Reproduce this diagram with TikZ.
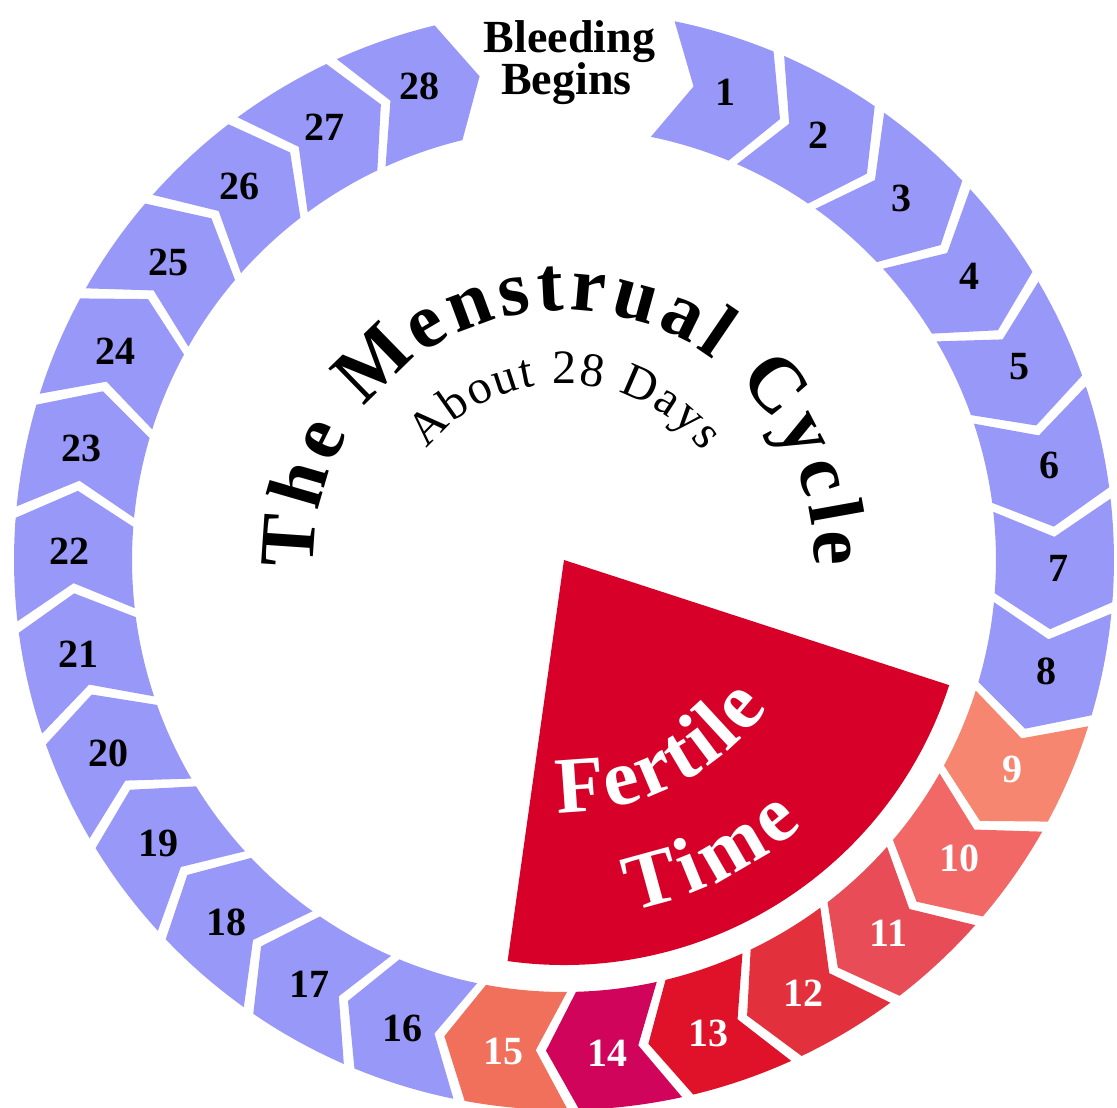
\documentclass[tikz,border=0pt]{standalone}
\usepackage{fontspec}
\setmainfont{Liberation Serif}
\usetikzlibrary{decorations.text}
\definecolor{ringblue}{RGB}{152,152,248}
\definecolor{fertilered}{RGB}{214,0,40}
\definecolor{dayix}{RGB}{246,134,112}
\definecolor{dayx}{RGB}{242,104,102}
\definecolor{dayxi}{RGB}{232,76,86}
\definecolor{dayxii}{RGB}{226,48,60}
\definecolor{dayxiii}{RGB}{224,18,42}
\definecolor{dayxiv}{RGB}{208,4,90}
\definecolor{dayxv}{RGB}{240,112,92}
\newcommand{\numfont}{\bfseries\fontsize{40}{40}\selectfont}
\newcommand{\titlefont}{\bfseries\fontsize{78}{90}\selectfont}
\newcommand{\subfont}{\fontsize{48}{50}\selectfont}
\newcommand{\fertfont}{\bfseries\fontsize{80}{90}\selectfont\color{white}}
% one chevron of the ring, #1 = centre angle, #2 = colour
\newcommand{\daysegment}[2]{%
    \fill[#2] ({#1+5.4}:550pt) arc[start angle={#1+5.4}, end angle={#1-5.4}, radius=550pt]
        -- ({#1-9.1}:491pt) -- ({#1-5.4}:432pt)
        arc[start angle={#1-5.4}, end angle={#1+5.4}, radius=432pt]
        -- ({#1+1.7}:491pt) -- cycle;}

\begin{document}
\begin{tikzpicture}[x=1pt,y=1pt]
    \useasboundingbox (-564,-548) rectangle (553,560);

    % days of the ring
    \foreach \k in {1,...,8,16,17,...,28} {
        \pgfmathsetmacro{\ang}{73-12*(\k-1)}
        \daysegment{\ang}{ringblue}
        \node[font=\numfont] (d\k) at ({\ang-2}:495pt) {\k};
    }
    \foreach \k/\col in {9/dayix, 10/dayx, 11/dayxi, 12/dayxii, 13/dayxiii, 14/dayxiv, 15/dayxv} {
        \pgfmathsetmacro{\ang}{73-12*(\k-1)}
        \daysegment{\ang}{\col}
        \node[font=\numfont, text=white] (d\k) at ({\ang-2}:495pt) {\k};
    }

    \node[font=\bfseries\fontsize{46}{46}\selectfont, anchor=base] (bleed) at (5.5, 507) {Bleeding};
    \node[font=\bfseries\fontsize{46}{46}\selectfont, anchor=base] (begins) at (2.5, 465) {Begins};

    % fertile time
    \fill[fertilered] (0, 0) -- (-18:405pt) arc[start angle=-18, end angle=-98, radius=405pt] -- cycle;
    \path[decorate, decoration={text along path, text align={fit to path},
        text={|\fertfont|Fertile}}]
        (-91.5:252pt) arc[start angle=-91.5, end angle=-36, radius=252pt];
    \path[decorate, decoration={text along path, text align={fit to path},
        text={|\fertfont|Time}}]
        (-79:357pt) arc[start angle=-79, end angle=-48, radius=357pt];

    % title
    \path[decorate, decoration={text along path, text align={fit to path},
        text={|\titlefont|The Menstrual Cycle}}]
        (182:250pt) arc[start angle=182, end angle=-1.5, radius=250pt];
    \path[decorate, decoration={text along path, text align={fit to path},
        text={|\subfont|About 28 Days}}]
        (141:176pt) arc[start angle=141, end angle=38, radius=176pt];
\end{tikzpicture}
\end{document}
